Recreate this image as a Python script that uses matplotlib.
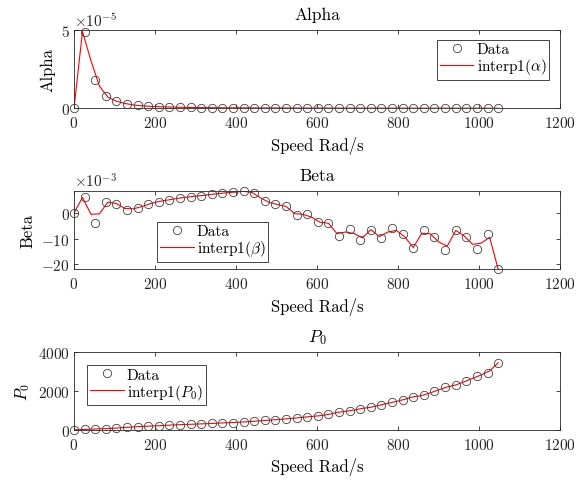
import matplotlib
matplotlib.use("Agg")
import matplotlib.pyplot as plt

plt.rcParams["font.family"] = "serif"
plt.rcParams["font.serif"] = ["cmr10"]
plt.rcParams["mathtext.fontset"] = "cm"
plt.rcParams["axes.formatter.use_mathtext"] = True
plt.rcParams["axes.unicode_minus"] = False

# measured points (speed in rad/s)
speed = [0, 26.2, 52.4, 78.5, 104.7, 130.9, 157.1, 183.3, 209.4, 235.6,
         261.8, 288.0, 314.2, 340.3, 366.5, 392.7, 418.9, 445.1, 471.2, 497.4,
         523.6, 549.8, 576.0, 602.1, 628.3, 654.5, 680.7, 706.9, 733.0, 759.2,
         785.4, 811.6, 837.8, 863.9, 890.1, 916.3, 942.5, 968.7, 994.8, 1021.0,
         1047.2]

alpha = [0, 4.86, 1.83, 0.77, 0.45, 0.27, 0.18, 0.13, 0.10, 0.08,
         0.065, 0.055, 0.047, 0.040, 0.035, 0.031, 0.028, 0.025, 0.022, 0.020,
         0.018, 0.017, 0.015, 0.014, 0.013, 0.012, 0.011, 0.010, 0.010, 0.009,
         0.009, 0.008, 0.008, 0.007, 0.007, 0.007, 0.006, 0.006, 0.006, 0.005,
         0.005]  # x1e-5

beta = [0, 6.4, -3.85, 4.5, 3.7, 1.27, 1.9, 3.45, 4.5, 5.2,
        5.9, 6.4, 6.8, 7.3, 7.8, 8.1, 8.5, 7.9, 4.6, 3.5,
        2.6, -0.9, -0.3, -3.5, -4.0, -9.1, -6.3, -10.5, -6.5, -9.9,
        -5.8, -8.3, -13.5, -6.5, -9.2, -14.5, -6.8, -9.5, -14.1, -8.3,
        -21.9]  # x1e-3

p0 = [10, 30, 50, 70, 100, 140, 170, 200, 220, 250,
      275, 295, 315, 335, 365, 385, 415, 450, 490, 530,
      570, 620, 680, 720, 800, 930, 980, 1100, 1170, 1300,
      1420, 1550, 1710, 1790, 1990, 2190, 2320, 2520, 2760, 2940,
      3460]

# interp1 curve
speed_q = [0, 20.9, 41.9, 62.8, 83.8, 104.7, 125.7, 146.6, 167.6, 188.5,
           209.4, 230.4, 251.3, 272.3, 293.2, 314.2, 335.1, 356.0, 377.0, 397.9,
           418.9, 439.8, 460.8, 481.7, 502.7, 523.6, 544.5, 565.5, 586.4, 607.4,
           628.3, 649.3, 670.2, 691.2, 712.1, 733.0, 754.0, 774.9, 795.9, 816.8,
           837.8, 858.7, 879.6, 900.6, 921.5, 942.5, 963.4, 984.4, 1005.3, 1026.3,
           1047.2]

alpha_q = [0, 4.9, 3.04, 1.41, 0.71, 0.45, 0.31, 0.216, 0.16, 0.124,
           0.10, 0.084, 0.071, 0.061, 0.053, 0.047, 0.041, 0.037, 0.033, 0.030,
           0.028, 0.026, 0.023, 0.021, 0.020, 0.018, 0.017, 0.016, 0.015, 0.014,
           0.013, 0.012, 0.011, 0.011, 0.010, 0.010, 0.009, 0.009, 0.008, 0.008,
           0.008, 0.007, 0.007, 0.007, 0.007, 0.006, 0.006, 0.006, 0.006, 0.005,
           0.005]

beta_q = [0, 6.1, -0.5, -0.3, 4.3, 3.7, 1.76, 1.65, 2.52, 3.66,
          4.5, 5.06, 5.62, 6.1, 6.48, 6.8, 7.2, 7.6, 7.92, 8.18,
          8.5, 8.02, 5.92, 4.16, 3.3, 2.6, -0.2, -0.54, -1.58, -3.6,
          -4.0, -8.08, -7.42, -7.98, -9.7, -6.5, -9.22, -7.44, -6.8, -9.34,
          -13.5, -7.9, -8.12, -11.32, -12.96, -6.8, -8.96, -12.26, -11.78, -9.5,
          -21.9]

p0_q = [10, 26, 42, 58, 76, 100, 132, 158, 182, 204,
        220, 244, 265, 283, 299, 315, 331, 353, 373, 391,
        415, 443, 474, 506, 538, 570, 610, 656, 696, 736,
        800, 904, 960, 1028, 1114, 1170, 1274, 1372, 1472, 1582,
        1710, 1774, 1910, 2070, 2216, 2320, 2480, 2664, 2832, 3044,
        3460]

fig = plt.figure(figsize=(5.78, 4.81), dpi=100)

L, W = 74/578, 486/578
boxes = [(L, 1-109.3/481, W, 78.3/481),
         (L, 1-270/481, W, 77.7/481),
         (L, 1-431/481, W, 77.7/481)]

panels = [
    ("Alpha", "Alpha", [a*1e-5 for a in alpha], [a*1e-5 for a in alpha_q],
     r"interp1($\alpha$)", (0, 5e-5), [0, 5e-5], -5, ("upper right", (0.978, 0.876))),
    ("Beta", "Beta", [b*1e-3 for b in beta], [b*1e-3 for b in beta_q],
     r"interp1($\beta$)", (-21.9e-3, 8.5e-3), [-20e-3, -10e-3, 0], -3, ("upper left", (0.171, 0.609))),
    (r"$P_0$", r"$P_0$", p0, p0_q,
     r"interp1($P_0$)", (0, 4000), [0, 2000, 4000], None, ("upper left", (0.027, 0.837))),
]

for box, (title, ylab, yd, yq, lab, ylim, yt, expo, lg) in zip(boxes, panels):
    ax = fig.add_axes(box)
    ax.plot(speed, yd, "o", mfc="none", mec="#404040", mew=0.6, ms=6,
            clip_on=False, label="Data", zorder=3)
    ax.plot(speed_q, yq, "-", color="red", lw=0.8, label=lab, zorder=2)
    ax.set_xlim(0, 1200)
    ax.set_ylim(*ylim)
    ax.set_xticks([0, 200, 400, 600, 800, 1000, 1200])
    ax.set_yticks(yt)
    if expo is not None:
        ax.ticklabel_format(axis="y", style="sci", scilimits=(expo, expo))
    ax.tick_params(direction="in", top=True, right=True, length=3, width=0.6,
                   labelsize=11, colors="#262626", pad=3)
    ax.tick_params(axis="x", pad=5)
    for s in ax.spines.values():
        s.set_linewidth(0.6)
        s.set_color("#262626")
    ax.yaxis.get_offset_text().set_fontsize(11)
    ax.set_title(title, fontsize=12.5, pad=8)
    ax.set_xlabel("Speed Rad/s", fontsize=12, labelpad=4)
    ax.set_ylabel(ylab, fontsize=12, labelpad=4)
    leg = ax.legend(loc=lg[0], bbox_to_anchor=lg[1], borderaxespad=0,
                    fontsize=11, fancybox=False, edgecolor="#262626",
                    handlelength=2.2, handletextpad=0.2, borderpad=0.2,
                    labelspacing=0.0, framealpha=1)
    leg.get_frame().set_linewidth(0.6)

fig.savefig("out.png", dpi=100)
